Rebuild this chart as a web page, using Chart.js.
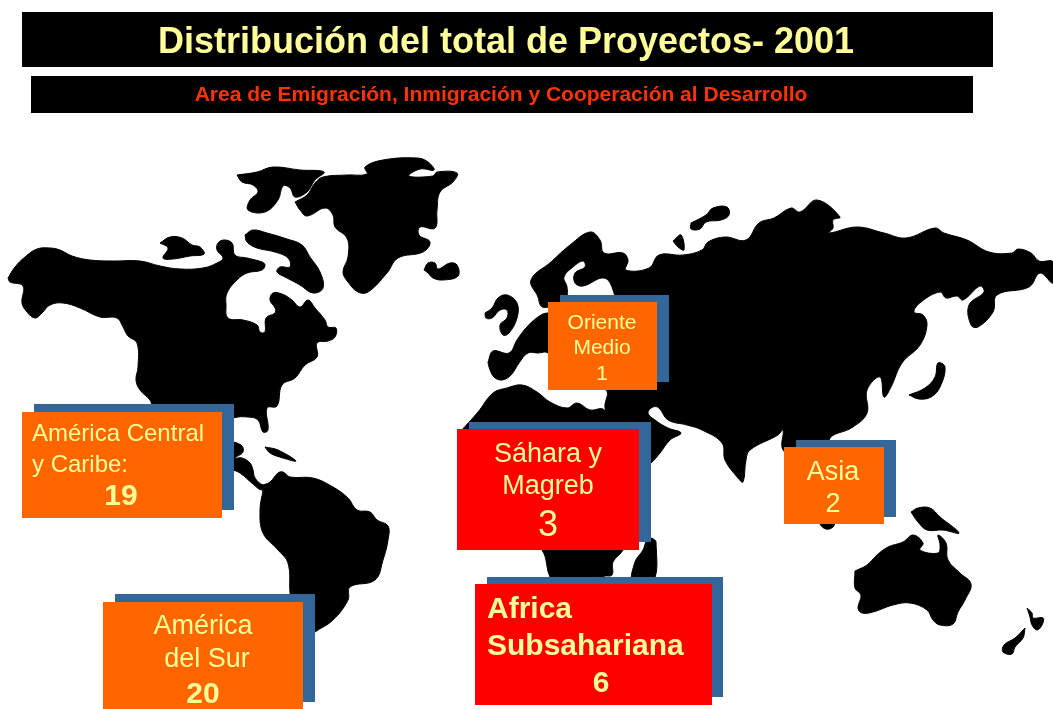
<!DOCTYPE html>
<html lang="es">
<head>
  <meta charset="UTF-8" />
  <title>Distribución del total de Proyectos- 2001</title>
  <script src="https://cdn.jsdelivr.net/npm/chart.js"></script>
  <style>
    html,body{margin:0;padding:0;background:#fff;}
    canvas{display:block;}
  </style>
</head>
<body>
  <canvas id="mapChart" width="1053" height="709"></canvas>

<script>
  // Project counts per area
  const regionNames=['América Central y Caribe','América del Sur','Oriente Medio','Sáhara y Magreb','Africa Subsahariana','Asia'];
  const regionValues=[19,20,1,3,6,2];

  const chartTitle='Distribución del total de Proyectos- 2001';
  const chartSubtitle='Area de Emigración, Inmigración y Cooperación al Desarrollo';

  // Land outlines (x, y on the map's 1053x709 grid)
  const northAmerica=[[8,278],[15,267],[25,257],[37,249],[50,248],[60,250],[72,256],[90,260],[113,261],[140,261],[160,266],[180,269],[203,268],[217,263],[223,258],[217,250],[218,243],[224,240],[232,243],[235,255],[247,258],[262,262],[265,265],[262,270],[247,273],[237,280],[227,293],[226,305],[228,318],[243,320],[257,325],[260,332],[265,332],[266,318],[275,313],[275,308],[270,300],[273,293],[282,294],[292,300],[300,307],[308,300],[315,308],[325,320],[328,327],[336,328],[335,337],[328,341],[317,343],[317,357],[305,365],[295,378],[282,385],[277,406],[267,408],[268,430],[263,432],[258,420],[248,417],[233,418],[200,430],[160,410],[153,407],[150,400],[140,390],[136,380],[138,367],[137,343],[128,336],[123,327],[117,318],[100,317],[80,308],[63,303],[50,305],[42,313],[35,318],[27,312],[22,303],[23,286],[10,282],[8,278]];
  const centralAmerica=[[225,440],[241,445],[243,452],[235,458],[242,458],[250,463],[253,470],[255,478],[263,485],[270,484],[262,490],[253,484],[240,473],[225,465],[225,440]];
  const cuba=[[265,447],[278,450],[296,461],[283,458],[270,453],[265,447]];
  const victoriaIsland=[[160,243],[170,237],[182,238],[192,245],[200,247],[204,254],[190,256],[173,259],[163,258],[168,248],[160,243]];
  const baffinIsland=[[245,235],[253,230],[267,233],[287,239],[302,245],[310,257],[320,272],[323,288],[313,293],[300,285],[287,278],[277,272],[280,267],[290,267],[288,258],[275,252],[257,248],[247,242],[245,235]];
  const ellesmereIsland=[[237,175],[257,172],[273,167],[300,170],[324,172],[315,180],[307,192],[295,197],[290,188],[283,186],[278,200],[265,212],[248,210],[250,200],[258,192],[253,185],[242,182],[237,175]];
  const greenland=[[295,202],[307,195],[315,183],[323,177],[347,175],[367,174],[365,167],[383,160],[417,158],[428,162],[434,170],[420,169],[409,176],[433,176],[437,172],[457,173],[453,182],[440,192],[437,210],[435,228],[420,227],[419,235],[430,242],[423,252],[398,258],[387,273],[368,292],[358,292],[348,282],[343,272],[348,257],[347,238],[335,227],[333,215],[325,208],[307,216],[300,210],[295,202]];
  const iceland=[[424,270],[428,263],[435,263],[438,269],[450,263],[457,265],[458,276],[443,280],[433,278],[428,273],[424,270]];
  const southAmerica=[[263,485],[270,482],[278,473],[283,472],[290,477],[313,478],[333,487],[348,498],[357,510],[370,512],[377,520],[388,526],[388,540],[383,560],[375,580],[350,587],[348,600],[333,620],[315,632],[305,640],[295,640],[292,610],[290,593],[288,563],[278,550],[263,533],[260,510],[263,490],[263,485]];
  const eurasia=[[488,362],[493,351],[509,353],[517,340],[526,328],[538,317],[548,313],[573,317],[613,307],[613,290],[604,278],[583,286],[575,283],[575,273],[585,267],[583,261],[573,267],[564,277],[567,287],[566,297],[548,307],[541,306],[538,297],[531,280],[551,262],[570,245],[590,232],[600,240],[604,253],[623,253],[628,260],[626,270],[649,268],[659,255],[683,255],[702,250],[708,242],[725,237],[746,240],[759,223],[774,218],[791,208],[800,212],[817,200],[840,217],[833,220],[833,228],[829,233],[857,227],[884,233],[906,238],[935,228],[944,233],[967,240],[989,252],[1012,253],[1018,249],[1031,253],[1039,261],[1053,262],[1053,283],[1040,273],[1029,287],[997,295],[993,312],[978,327],[971,325],[969,305],[984,292],[980,286],[963,300],[957,296],[946,298],[940,292],[921,302],[914,312],[923,315],[927,325],[920,345],[902,363],[891,387],[884,397],[880,377],[867,390],[867,413],[853,427],[829,440],[835,470],[835,520],[833,527],[826,529],[820,524],[810,500],[800,460],[783,450],[783,430],[778,435],[750,450],[746,460],[743,482],[738,478],[725,460],[722,443],[702,430],[687,425],[668,420],[659,408],[653,407],[648,413],[655,420],[668,428],[681,433],[670,440],[660,453],[651,463],[640,470],[620,430],[612,423],[605,408],[606,390],[570,375],[548,353],[538,353],[528,353],[519,363],[511,375],[502,380],[494,377],[489,367],[488,362]];
  const britain=[[485,313],[492,308],[498,298],[507,295],[517,303],[517,318],[509,333],[503,335],[500,325],[507,318],[507,310],[500,310],[492,318],[486,318],[485,313]];
  const svalbard=[[691,223],[706,215],[713,208],[727,207],[729,215],[721,220],[706,222],[700,229],[691,229],[691,223]];
  const novayaZemlya=[[673,241],[681,235],[684,250],[678,247],[673,241]];
  const japan=[[909,395],[925,388],[935,377],[938,363],[945,367],[940,387],[931,397],[919,399],[909,395]];
  const africa=[[460,432],[478,412],[493,393],[507,388],[522,385],[537,392],[550,402],[567,408],[577,403],[590,410],[603,409],[608,417],[613,422],[640,460],[635,520],[623,550],[613,562],[612,575],[603,577],[590,600],[565,600],[550,577],[542,550],[500,500],[465,450],[460,432]];
  const madagascar=[[652,538],[656,542],[653,582],[633,582],[635,562],[643,550],[647,540],[652,538]];
  const australia=[[855,571],[867,565],[877,555],[888,547],[903,542],[913,535],[923,543],[920,550],[938,553],[940,545],[938,535],[946,543],[948,560],[960,573],[971,584],[965,600],[958,612],[953,624],[940,625],[933,620],[927,610],[910,603],[893,605],[873,612],[862,613],[858,608],[861,595],[855,588],[855,571]];
  const newGuinea=[[911,512],[918,508],[930,508],[940,517],[959,533],[943,530],[927,530],[918,522],[911,512]];
  const newZealandNorth=[[1027,608],[1032,613],[1033,618],[1043,618],[1042,625],[1037,630],[1032,625],[1030,617],[1027,608]];
  const newZealandSouth=[[1025,628],[1023,638],[1015,647],[1012,654],[1003,652],[1004,645],[1015,638],[1025,628]];
  const seamLine=[[515,345],[918,345]];

  const lands=[northAmerica,centralAmerica,cuba,victoriaIsland,baffinIsland,ellesmereIsland,greenland,iceland,southAmerica,eurasia,britain,svalbard,novayaZemlya,japan,africa,madagascar,australia,newGuinea,newZealandNorth,newZealandSouth];

  // Label boxes: index into regionValues, offset shadow box, main box, text lines
  const BLUE='#336699',ORANGE='#FF6600',RED='#FF0000',CREAM='#FFFF99';
  const FONT='"Liberation Sans", Arial, sans-serif';
  const boxes=[
    {i:0,fill:ORANGE,back:[34,404,234,510],front:[22,412,222,518],lines:[['América Central',32,441,'left',24,''],['y Caribe:',32,472,'left',24,'']],num:[121,505,'30','bold']},
    {i:1,fill:ORANGE,back:[115,594,315,702],front:[103,602,303,709],lines:[['América',203,634,'center',27,''],['del Sur',207,667,'center',27,'']],num:[203,703,'30','bold']},
    {i:2,fill:ORANGE,back:[560,295,669,382],front:[548,302,657,390],lines:[['Oriente',602,329,'center',21,''],['Medio',602,354,'center',21,'']],num:[602,380,'21','']},
    {i:3,fill:RED,back:[469,422,651,542],front:[457,429,639,550],lines:[['Sáhara y',548,462,'center',27,''],['Magreb',548,494,'center',27,'']],num:[548,536,'36','']},
    {i:4,fill:RED,back:[487,577,723,697],front:[475,584,712,705],lines:[['Africa',487,618,'left',30,'bold'],['Subsahariana',487,655,'left',30,'bold']],num:[601,692,'30','bold']},
    {i:5,fill:ORANGE,back:[796,440,896,517],front:[784,447,884,524],lines:[['Asia',833,480,'center',27,'']],num:[833,512,'27','']}
  ];

  const labelPlugin={
    id:'labels',
    afterDatasetsDraw(chart){
      const {ctx,scales:{x,y}}=chart;
      const rect=(r,color)=>{
        const x0=x.getPixelForValue(r[0]),y0=y.getPixelForValue(r[1]);
        ctx.fillStyle=color;
        ctx.fillRect(x0,y0,x.getPixelForValue(r[2])-x0,y.getPixelForValue(r[3])-y0);
      };
      const text=(s,px,py,align,size,weight,color)=>{
        ctx.font=(weight?weight+' ':'')+size+'px '+FONT;
        ctx.textAlign=align;
        ctx.textBaseline='alphabetic';
        ctx.fillStyle=color;
        ctx.fillText(s,x.getPixelForValue(px),y.getPixelForValue(py));
      };
      ctx.save();
      rect([22,12,993,67],'#000');
      text(chartTitle,506,53,'center',36,'bold',CREAM);
      rect([31,76,973,113],'#000');
      text(chartSubtitle,501,101,'center',21,'bold','#FF3300');
      boxes.forEach(b=>{
        rect(b.back,BLUE);
        rect(b.front,b.fill);
        b.lines.forEach(l=>text(l[0],l[1],l[2],l[3],l[4],l[5],CREAM));
        text(String(regionValues[b.i]),b.num[0],b.num[1],'center',b.num[2],b.num[3],CREAM);
      });
      ctx.restore();
    }
  };

  const toPoints=a=>a.map(p=>({x:p[0],y:p[1]}));
  const datasets=lands.map(land=>({
    data:toPoints(land),showLine:true,fill:'shape',tension:.4,
    backgroundColor:'#000',borderColor:'#000',borderWidth:1,pointRadius:0
  }));
  datasets.push({data:toPoints(seamLine),showLine:true,fill:false,borderColor:'#444',borderWidth:1,pointRadius:0});

  new Chart(document.getElementById('mapChart').getContext('2d'),{
    type:'scatter',
    data:{datasets},
    options:{
      responsive:false,animation:false,
      layout:{padding:0},
      plugins:{legend:{display:false},title:{display:false},tooltip:{enabled:false}},
      scales:{
        x:{type:'linear',display:false,min:0,max:1053},
        y:{type:'linear',display:false,min:0,max:709,reverse:true}
      }
    },
    plugins:[labelPlugin]
  });
</script>
</body>
</html>
